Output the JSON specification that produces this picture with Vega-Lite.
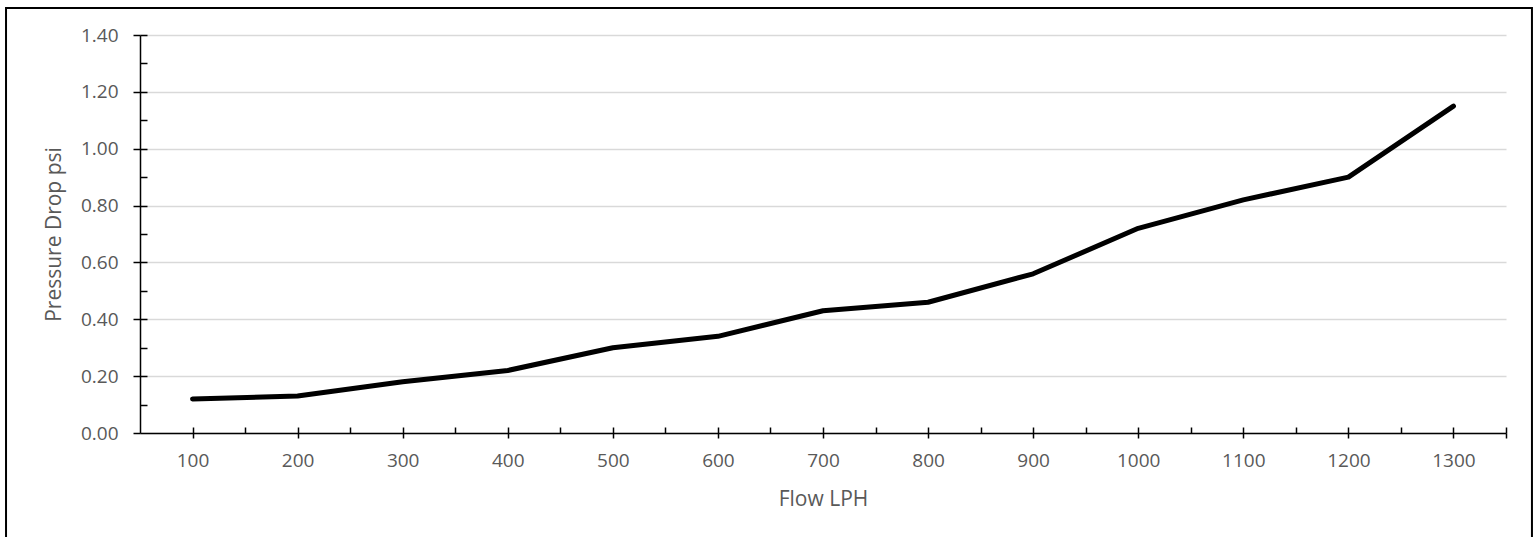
{
  "$schema": "https://vega.github.io/schema/vega-lite/v6.json",
  "width": 1366,
  "height": 398,
  "autosize": "none",
  "padding": {"left": 140, "top": 35, "right": 34, "bottom": 104},
  "background": "white",
  "data": {
    "values": [
      {"flow": 100, "pressure": 0.12},
      {"flow": 200, "pressure": 0.13},
      {"flow": 300, "pressure": 0.18},
      {"flow": 400, "pressure": 0.22},
      {"flow": 500, "pressure": 0.30},
      {"flow": 600, "pressure": 0.34},
      {"flow": 700, "pressure": 0.43},
      {"flow": 800, "pressure": 0.46},
      {"flow": 900, "pressure": 0.56},
      {"flow": 1000, "pressure": 0.72},
      {"flow": 1100, "pressure": 0.82},
      {"flow": 1200, "pressure": 0.90},
      {"flow": 1300, "pressure": 1.15}
    ]
  },
  "layer": [
    {
      "data": {"values": [{}]},
      "mark": {"type": "rect", "filled": false, "stroke": "black", "strokeWidth": 2},
      "encoding": {
        "x": {"datum": -77.5, "type": "quantitative", "axis": null},
        "x2": {"datum": 1374.7},
        "y": {"datum": 1.495, "type": "quantitative", "axis": null},
        "y2": {"datum": -0.4}
      }
    },
    {
      "mark": {"type": "point", "opacity": 0},
      "encoding": {
        "x": {
          "field": "flow",
          "type": "quantitative",
          "axis": {
            "orient": "bottom",
            "values": [100, 150, 200, 250, 300, 350, 400, 450, 500, 550, 600, 650, 700, 750, 800, 850, 900, 950, 1000, 1050, 1100, 1150, 1200, 1250, 1300, 1350],
            "tickSize": -6,
            "labels": false,
            "domain": false,
            "grid": false,
            "title": null
          }
        },
        "y": {
          "field": "pressure",
          "type": "quantitative",
          "axis": {
            "orient": "left",
            "values": [0.1, 0.2, 0.3, 0.4, 0.5, 0.6, 0.7, 0.8, 0.9, 1.0, 1.1, 1.2, 1.3, 1.4],
            "tickSize": -7,
            "labels": false,
            "domain": false,
            "grid": false,
            "title": null
          }
        }
      }
    },
    {
      "mark": {"type": "line", "color": "black", "strokeWidth": 5, "strokeCap": "round", "strokeJoin": "round"},
      "encoding": {
        "x": {
          "field": "flow",
          "type": "quantitative",
          "scale": {"domain": [50, 1350], "nice": false, "zero": false},
          "axis": {
            "orient": "bottom",
            "values": [100, 200, 300, 400, 500, 600, 700, 800, 900, 1000, 1100, 1200, 1300, 1350],
            "format": "d",
            "labelExpr": "datum.value > 1300 ? '' : datum.label",
            "tickSize": 5,
            "labelPadding": 13,
            "grid": false,
            "title": "Flow LPH",
            "titlePadding": 18
          }
        },
        "y": {
          "field": "pressure",
          "type": "quantitative",
          "scale": {"domain": [0, 1.4], "nice": false},
          "axis": {
            "orient": "left",
            "values": [0, 0.2, 0.4, 0.6, 0.8, 1.0, 1.2, 1.4],
            "format": ".2f",
            "tickSize": 7,
            "labelPadding": 15,
            "grid": true,
            "gridColor": "#d9d9d9",
            "gridWidth": 1.5,
            "title": "Pressure Drop psi",
            "titlePadding": 16
          }
        }
      }
    }
  ],
  "resolve": {"axis": {"x": "independent", "y": "independent"}},
  "config": {
    "view": {"stroke": null},
    "axis": {
      "domainColor": "black",
      "domainWidth": 1.5,
      "tickColor": "black",
      "tickWidth": 1.5,
      "labelFont": "Open Sans",
      "labelFontSize": 19,
      "labelColor": "#595959",
      "titleFont": "Open Sans",
      "titleFontSize": 21,
      "titleFontWeight": "normal",
      "titleColor": "#595959"
    }
  }
}
